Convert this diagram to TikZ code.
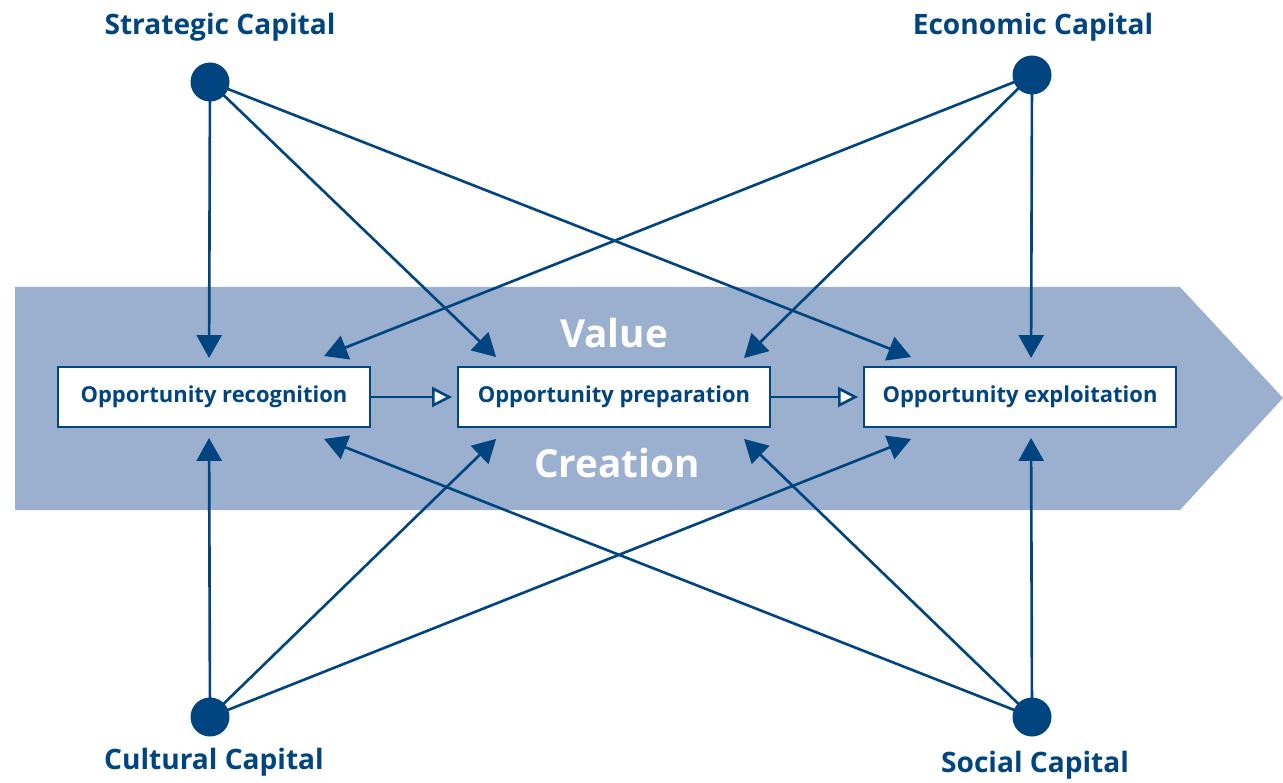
\documentclass[tikz,border=0pt]{standalone}
\usepackage{fontspec}
\setmainfont{Open Sans}
\usetikzlibrary{arrows.meta,positioning,calc}
\definecolor{capblue}{RGB}{0,68,128}
\definecolor{bandblue}{RGB}{155,175,207}
\tikzset{
  capital/.style={circle,fill=capblue,minimum size=0.78cm,inner sep=0pt},
  caplabel/.style={text=capblue,font=\bfseries\fontsize{16}{18}\selectfont},
  stage/.style={draw=capblue,line width=1.1pt,fill=white,minimum width=6.24cm,
    minimum height=1.2cm,inner sep=0pt,text=capblue,font=\bfseries\fontsize{12.5}{14}\selectfont},
  bandtext/.style={text=white,font=\bfseries\fontsize{22}{24}\selectfont},
  link/.style={draw=capblue,line width=1.5pt,-{Triangle[length=0.46cm,width=0.5cm]}},
  flow/.style={draw=capblue,line width=1.5pt,
    -{Triangle[open,fill=white,length=0.4cm,width=0.4cm]},shorten >=0.1cm}
}
\begin{document}
\begin{tikzpicture}[x=0.02cm,y=-0.02cm]
  \useasboundingbox (0,0) rectangle (1283,783);
  % value creation band
  \fill[bandblue] (15,287) -- (1180,287) -- (1283,398) -- (1180,510) -- (15,510) -- cycle;
  \node[bandtext] (value) at (614,333) {Value};
  \node[bandtext] (creation) at (617,463) {Creation};
  % stages
  \node[stage] (rec) at (214,397) {Opportunity recognition};
  \node[stage] (prep) at (614,397) {Opportunity preparation};
  \node[stage] (expl) at (1020,397) {Opportunity exploitation};
  \draw[flow] (rec) -- (prep);
  \draw[flow] (prep) -- (expl);
  % capitals
  \coordinate (strat) at (210,82);
  \coordinate (econ) at (1032,75);
  \coordinate (cult) at (210,717);
  \coordinate (soc) at (1032,717);
  \begin{scope}[link]
    \draw (strat) to ($(rec.north west)+(152,-8)$);
    \draw (strat) to ($(prep.north west)+(39,-9)$);
    \draw (strat) to ($(expl.north west)+(48,-9)$);
    \draw (econ) to ($(rec.north west)+(267,-10)$);
    \draw (econ) to ($(prep.north west)+(287,-8)$);
    \draw (econ) to ($(expl.north west)+(168,-8)$);
    \draw (cult) to ($(rec.south west)+(152,10)$);
    \draw (cult) to ($(prep.south west)+(39,11)$);
    \draw (cult) to ($(expl.south west)+(48,11)$);
    \draw (soc) to ($(rec.south west)+(267,11)$);
    \draw (soc) to ($(prep.south west)+(287,11)$);
    \draw (soc) to ($(expl.south west)+(168,10)$);
  \end{scope}
  \node[capital] at (strat) {};
  \node[capital] at (econ) {};
  \node[capital] at (cult) {};
  \node[capital] at (soc) {};
  \node[caplabel] (stratlabel) at (220,27) {Strategic Capital};
  \node[caplabel] (econlabel) at (1033,27) {Economic Capital};
  \node[caplabel] (cultlabel) at (214,762) {Cultural Capital};
  \node[caplabel] (soclabel) at (1035,765) {Social Capital};
\end{tikzpicture}
\end{document}
